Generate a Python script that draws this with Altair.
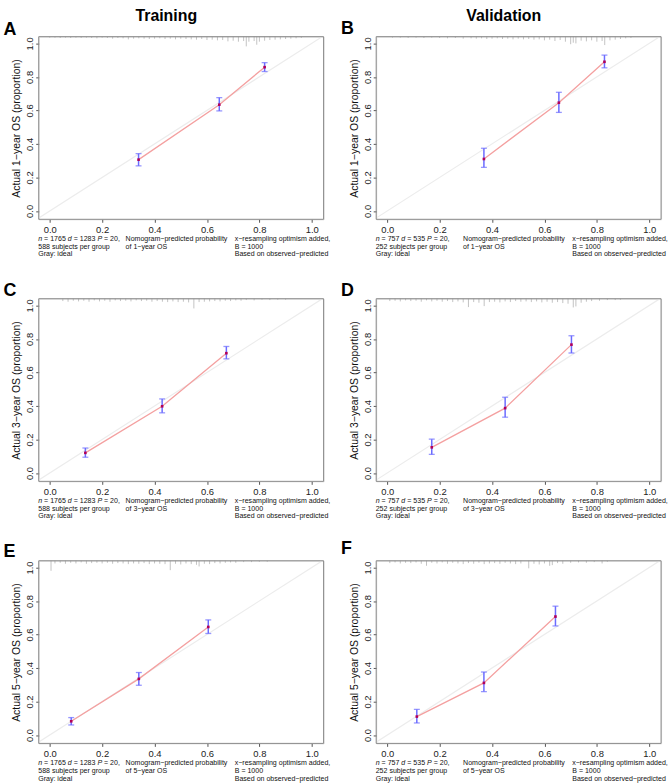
import altair as alt
import pandas as pd

# ---------------- data ----------------
letters = ["A", "B", "C", "D", "E", "F"]
years = [1, 1, 3, 3, 5, 5]
col_titles = ["Training", "Validation"]
n_vals = ["1765", "757"]
d_vals = ["1283", "535"]
p_vals = ["20", "20"]
grp_lines = ["588 subjects per group", "252 subjects per group"]

pred = [[0.339, 0.647, 0.820], [0.369, 0.655, 0.829],
        [0.136, 0.429, 0.674], [0.170, 0.450, 0.703],
        [0.082, 0.340, 0.605], [0.113, 0.369, 0.642]]
obs = [[0.306, 0.634, 0.858], [0.310, 0.646, 0.890],
       [0.120, 0.398, 0.715], [0.153, 0.387, 0.766],
       [0.082, 0.335, 0.645], [0.110, 0.311, 0.707]]
lo = [[0.269, 0.597, 0.832], [0.260, 0.588, 0.854],
      [0.094, 0.359, 0.681], [0.111, 0.333, 0.716],
      [0.060, 0.297, 0.606], [0.072, 0.259, 0.651]]
hi = [[0.342, 0.676, 0.885], [0.374, 0.708, 0.930],
      [0.149, 0.442, 0.755], [0.202, 0.452, 0.819],
      [0.104, 0.373, 0.687], [0.153, 0.376, 0.769]]

# rug of predicted risk at the top of each panel: (x, spike length)
rug_A = [(0.00, .006), (0.02, .006), (0.04, .008), (0.06, .006), (0.08, .008), (0.10, .006),
         (0.12, .008), (0.14, .006), (0.16, .008), (0.18, .010), (0.20, .006), (0.22, .008),
         (0.24, .012), (0.26, .008), (0.28, .010), (0.30, .016), (0.32, .012), (0.34, .010),
         (0.36, .012), (0.38, .014), (0.40, .012), (0.42, .010), (0.44, .014), (0.46, .012),
         (0.48, .016), (0.50, .012), (0.52, .014), (0.54, .016), (0.56, .018), (0.58, .014),
         (0.60, .020), (0.62, .018), (0.64, .022), (0.66, .020), (0.68, .028), (0.70, .024),
         (0.72, .030), (0.74, .026), (0.75, .058), (0.76, .030), (0.78, .026), (0.79, .048),
         (0.80, .030), (0.82, .024), (0.84, .020), (0.86, .018), (0.88, .016), (0.90, .014),
         (0.92, .012), (0.94, .010), (0.96, .008)]
rug_B = [(0.02, .006), (0.05, .006), (0.08, .008), (0.11, .006), (0.14, .008), (0.17, .006),
         (0.20, .008), (0.23, .010), (0.26, .008), (0.29, .012), (0.32, .010), (0.34, .012),
         (0.36, .010), (0.38, .014), (0.40, .012), (0.42, .010), (0.44, .014), (0.46, .012),
         (0.48, .016), (0.50, .012), (0.52, .016), (0.54, .014), (0.56, .018), (0.58, .016),
         (0.60, .022), (0.62, .018), (0.64, .026), (0.66, .020), (0.68, .030), (0.70, .045),
         (0.71, .036), (0.72, .040), (0.74, .024), (0.76, .028), (0.78, .022), (0.80, .030),
         (0.82, .026), (0.83, .050), (0.85, .022), (0.87, .018), (0.89, .014), (0.91, .010),
         (0.93, .008)]
rug_C = [(0.05, .014), (0.07, .018), (0.09, .012), (0.11, .016), (0.13, .012), (0.15, .018),
         (0.17, .010), (0.19, .016), (0.21, .012), (0.23, .018), (0.25, .010), (0.27, .014),
         (0.29, .012), (0.31, .016), (0.33, .010), (0.35, .014), (0.37, .012), (0.39, .018),
         (0.41, .014), (0.43, .018), (0.45, .020), (0.47, .016), (0.49, .020), (0.51, .018),
         (0.53, .022), (0.55, .058), (0.57, .020), (0.59, .018), (0.61, .016), (0.63, .014),
         (0.65, .016), (0.67, .012), (0.69, .014), (0.71, .010), (0.73, .012), (0.75, .008),
         (0.78, .010), (0.81, .006), (0.84, .008), (0.87, .006), (0.90, .006)]
rug_D = [(0.01, .014), (0.03, .012), (0.05, .016), (0.07, .010), (0.09, .014), (0.11, .012),
         (0.13, .018), (0.15, .010), (0.17, .016), (0.19, .012), (0.21, .018), (0.23, .014),
         (0.25, .020), (0.27, .016), (0.29, .022), (0.31, .050), (0.33, .020), (0.35, .024),
         (0.37, .044), (0.39, .020), (0.41, .018), (0.43, .022), (0.45, .016), (0.47, .020),
         (0.49, .014), (0.51, .018), (0.53, .016), (0.55, .020), (0.57, .016), (0.59, .022),
         (0.61, .018), (0.63, .024), (0.65, .020), (0.67, .026), (0.69, .030), (0.71, .052),
         (0.72, .046), (0.74, .024), (0.76, .018), (0.78, .014), (0.81, .012), (0.84, .008),
         (0.87, .008), (0.89, .006)]
rug_E = [(0.005, .060), (0.02, .016), (0.04, .012), (0.06, .018), (0.08, .012), (0.10, .016),
         (0.12, .010), (0.14, .018), (0.16, .014), (0.18, .012), (0.20, .016), (0.22, .012),
         (0.24, .018), (0.26, .014), (0.28, .016), (0.30, .020), (0.32, .016), (0.34, .018),
         (0.36, .014), (0.38, .020), (0.40, .016), (0.42, .018), (0.44, .020), (0.46, .056),
         (0.48, .018), (0.50, .022), (0.52, .016), (0.54, .020), (0.56, .024), (0.57, .034),
         (0.59, .018), (0.61, .020), (0.63, .014), (0.65, .016), (0.67, .012), (0.69, .010),
         (0.71, .012), (0.74, .008), (0.77, .008), (0.80, .006), (0.83, .006)]
rug_F = [(0.01, .014), (0.03, .010), (0.05, .016), (0.07, .012), (0.09, .014), (0.11, .010),
         (0.13, .018), (0.15, .030), (0.17, .012), (0.19, .016), (0.21, .010), (0.23, .018),
         (0.25, .012), (0.27, .016), (0.29, .020), (0.31, .014), (0.33, .018), (0.35, .012),
         (0.37, .020), (0.39, .016), (0.41, .014), (0.43, .018), (0.45, .012), (0.47, .016),
         (0.49, .020), (0.51, .016), (0.54, .045), (0.56, .018), (0.58, .022), (0.60, .016),
         (0.62, .030), (0.63, .026), (0.65, .014), (0.67, .018), (0.70, .012), (0.73, .010),
         (0.76, .012), (0.79, .008), (0.82, .016), (0.84, .006)]
rugs = [rug_A, rug_B, rug_C, rug_D, rug_E, rug_F]

tick_vals = [0.0, 0.2, 0.4, 0.6, 0.8, 1.0]

# ---------------- layout / style ----------------
W, H = 287, 184
X_DOM = [-0.042, 1.045]
Y_DOM = [-0.05, 1.04]
FONT = "Liberation Sans"
MINUS = "\u2212"
FOOT_FS = 7.1
letter_dy = [-2, -2.5, -3, -3, -3.5, -7]

# Arial / Liberation Sans advance widths (em) for measuring the mixed-style footer line
ADV = {" ": .278, "=": .584, ",": .278, "n": .556, "d": .556, "P": .667}


def text_w(s):
    return sum(ADV.get(c, .556) for c in s) * FOOT_FS


def pix():
    return dict(x=alt.X("px:Q", scale=None, axis=None), y=alt.Y("py:Q", scale=None, axis=None))


def panel(i):
    col = i % 2
    df = pd.DataFrame({"pred": pred[i], "obs": obs[i], "lo": lo[i], "hi": hi[i]})
    rug = pd.DataFrame(rugs[i], columns=["rx", "rlen"])
    rug["top"] = Y_DOM[1]
    rug["bot"] = Y_DOM[1] - rug["rlen"]
    ideal = pd.DataFrame({"a": [Y_DOM[0], X_DOM[1]]})

    xs = alt.Scale(domain=X_DOM, nice=False, zero=False)
    ys = alt.Scale(domain=Y_DOM, nice=False, zero=False)
    xax = alt.Axis(values=tick_vals, format=".1f", title=None, grid=False, domain=False,
                   tickSize=3, tickColor="#555", labelPadding=2, labelFontSize=9.5,
                   labelColor="#222", labelFont=FONT)
    yax = alt.Axis(values=tick_vals, format=".1f",
                   title=f"Actual {years[i]}{MINUS}year OS (proportion)",
                   grid=False, domain=False, tickSize=3, tickColor="#555", labelPadding=1,
                   labelFontSize=9.5, labelColor="#222", labelFont=FONT,
                   labelAngle=-90, labelAlign="center", labelBaseline="bottom",
                   titleFont=FONT, titleFontSize=10.5, titleFontWeight="normal",
                   titleColor="#111", titlePadding=3)

    def X(f):
        return alt.X(f, type="quantitative", scale=xs, axis=xax)

    def Y(f):
        return alt.Y(f, type="quantitative", scale=ys, axis=yax)

    base_ideal = alt.Chart(ideal).mark_line(color="#ececec", strokeWidth=1.2, clip=True).encode(
        x=X("a"), y=Y("a"))
    rug_layer = alt.Chart(rug).mark_rule(color="#9a9a9a", strokeWidth=0.6).encode(
        x=X("rx"), y=Y("top"), y2="bot")
    line = alt.Chart(df).mark_line(color="#f4a0a0", strokeWidth=1.3).encode(x=X("pred"), y=Y("obs"))
    bars = alt.Chart(df).mark_rule(color="#6b6bff", strokeWidth=1.5).encode(
        x=X("pred"), y=Y("lo"), y2="hi")
    cap_lo = alt.Chart(df).mark_tick(orient="horizontal", size=6, thickness=1.3, color="#6b6bff").encode(
        x=X("pred"), y=Y("lo"))
    cap_hi = alt.Chart(df).mark_tick(orient="horizontal", size=6, thickness=1.3, color="#6b6bff").encode(
        x=X("pred"), y=Y("hi"))
    pts = alt.Chart(df).mark_square(size=7, color="#b0005a", opacity=1).encode(x=X("pred"), y=Y("obs"))

    box = alt.Chart(pd.DataFrame({"px": [0], "py": [0], "px2": [W], "py2": [H]})).mark_rect(
        fill=None, stroke="#8a8a8a", strokeWidth=1).encode(x2="px2", y2="py2", **pix())

    # footer annotations (pixel positions relative to the plot area)
    y1, y2, y3 = H + 21.7, H + 29.6, H + 37.4
    x1, x2, x3 = -0.5, 87.5, 197.5
    # first line: italic n, d, P with upright rest (SVG drops leading spaces, so offset by them)
    seg_it = ["n", "d", "P"]
    seg_up = [f" = {n_vals[col]} ", f" = {d_vals[col]} ", f" = {p_vals[col]},"]
    it_x, up_x, cur = [], [], x1
    for a, b in zip(seg_it, seg_up):
        it_x.append(cur)
        cur += text_w(a)
        up_x.append(cur + text_w(" "))
        cur += text_w(b)
    foot_txt = [s.strip() for s in seg_up] + [
        grp_lines[col], "Gray: ideal",
        f"Nomogram{MINUS}predicted probability", f"of {years[i]}{MINUS}year OS",
        f"x{MINUS}resampling optimism added,", "B = 1000",
        f"Based on observed{MINUS}predicted"]
    fx = up_x + [x1, x1, x2, x2, x3, x3, x3]
    fy = [y1, y1, y1, y2, y3, y1, y2, y1, y2, y3]
    foot = pd.DataFrame({"t": foot_txt, "px": fx, "py": fy})
    foot_layer = alt.Chart(foot).mark_text(align="left", baseline="alphabetic", fontSize=FOOT_FS,
                                           font=FONT, color="#111").encode(text="t:N", **pix())
    foot_it = pd.DataFrame({"t": seg_it, "px": it_x, "py": [y1] * 3})
    foot_it_layer = alt.Chart(foot_it).mark_text(align="left", baseline="alphabetic", fontSize=FOOT_FS,
                                                 fontStyle="italic", font=FONT, color="#111").encode(
        text="t:N", **pix())

    lab = pd.DataFrame({"t": [letters[i]], "px": [-35.5], "py": [letter_dy[i]]})
    lab_layer = alt.Chart(lab).mark_text(align="left", baseline="alphabetic", fontSize=18,
                                         fontWeight="bold", font=FONT, color="#000").encode(
        text="t:N", **pix())

    layers = [base_ideal, rug_layer, line, bars, cap_lo, cap_hi, pts, box,
              foot_layer, foot_it_layer, lab_layer]
    if i < 2:
        tt = pd.DataFrame({"t": [col_titles[col]], "px": [128.5], "py": [-15.3]})
        layers.append(alt.Chart(tt).mark_text(align="center", baseline="alphabetic", fontSize=16,
                                              fontWeight="bold", font=FONT, color="#000").encode(
            text="t:N", **pix()))
    return alt.layer(*layers).properties(width=W, height=H)


chart = alt.concat(*[panel(i) for i in range(6)], columns=2,
                   spacing={"row": 80, "column": 53}, bounds="flush").properties(
    padding={"left": 3, "top": 5, "right": 2, "bottom": 4}, background="white"
).configure_view(stroke="#8a8a8a", strokeWidth=1).configure(font=FONT)

chart.save("out.html", embed_options={"renderer": "svg", "actions": False})
